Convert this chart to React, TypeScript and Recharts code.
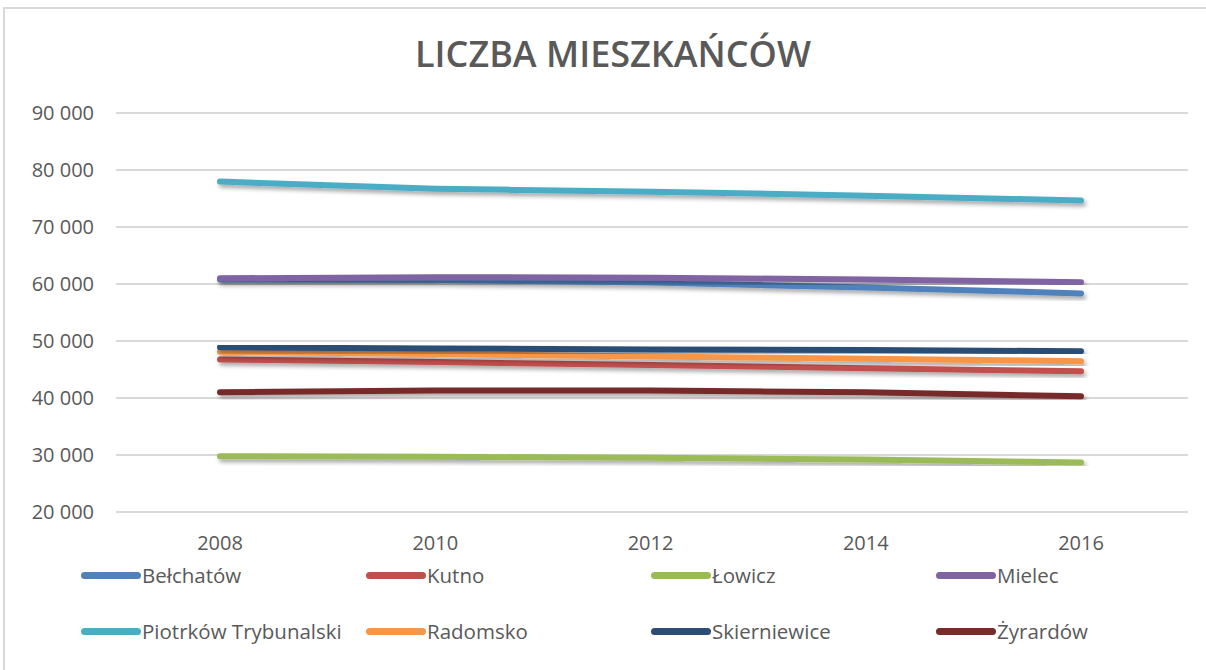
import { LineChart, Line, XAxis, YAxis, CartesianGrid } from "recharts"

const years = ["2008", "2010", "2012", "2014", "2016"]

const belchatow = [60800, 60700, 60250, 59400, 58350]
const kutno = [46750, 46300, 45800, 45200, 44700]
const lowicz = [29800, 29700, 29500, 29200, 28700]
const mielec = [61000, 61200, 61100, 60800, 60300]
const piotrkow = [77970, 76700, 76200, 75500, 74640]
const radomsko = [48100, 47700, 47300, 46900, 46450]
const skierniewice = [48900, 48700, 48500, 48400, 48200]
const zyrardow = [41000, 41300, 41300, 41000, 40300]

const yTicks = [20000, 30000, 40000, 50000, 60000, 70000, 80000, 90000]

const series = [
  { key: "belchatow", name: "Bełchatów", color: "#4F81BD", values: belchatow },
  { key: "kutno", name: "Kutno", color: "#C0504D", values: kutno },
  { key: "lowicz", name: "Łowicz", color: "#9BBB59", values: lowicz },
  { key: "mielec", name: "Mielec", color: "#8064A2", values: mielec },
  { key: "piotrkow", name: "Piotrków Trybunalski", color: "#4BACC6", values: piotrkow },
  { key: "radomsko", name: "Radomsko", color: "#F79646", values: radomsko },
  { key: "skierniewice", name: "Skierniewice", color: "#2C4D75", values: skierniewice },
  { key: "zyrardow", name: "Żyrardów", color: "#772C2A", values: zyrardow },
]

const data = years.map((year, i) => {
  const row: Record<string, string | number> = { year }
  series.forEach((s) => {
    row[s.key] = s.values[i]
  })
  return row
})

const font = "'Open Sans', sans-serif"
const textColor = "#595959"

const formatTick = (v: number) => `${Math.round(v / 1000)} 000`

export default function App() {
  return (
    <div style={{ position: "absolute", left: 0, top: 0, width: 1206, height: 670, overflow: "hidden", background: "#fff", fontFamily: font }}>
      {/* outer frame, only left and top edges are in view */}
      <div
        style={{
          position: "absolute",
          left: 3,
          top: 7,
          width: 1300,
          height: 700,
          borderLeft: "2px solid #d9d9d9",
          borderTop: "2px solid #d9d9d9",
        }}
      />
      <div
        style={{
          position: "absolute",
          left: 0,
          width: 1226,
          top: 29,
          textAlign: "center",
          fontSize: 36,
          fontWeight: 600,
          color: textColor,
        }}
      >
        LICZBA MIESZKAŃCÓW
      </div>
      <div style={{ position: "absolute", left: 0, top: 0 }}>
        <LineChart
          width={1206}
          height={670}
          data={data}
          margin={{ top: 113, right: 18, bottom: 128, left: 0 }}
        >
          <defs>
            <filter id="sh" x="-5%" y="-50%" width="110%" height="200%">
              <feDropShadow dx="2" dy="3" stdDeviation="2" floodColor="#000" floodOpacity="0.35" />
            </filter>
          </defs>
          <CartesianGrid vertical={false} stroke="#d9d9d9" strokeWidth={2} />
          <XAxis
            dataKey="year"
            axisLine={false}
            tickLine={false}
            tickSize={0}
            tickMargin={24}
            height={30}
            padding={{ left: 104, right: 107 }}
            tick={{ fill: textColor, fontSize: 20, fontFamily: font }}
          />
          <YAxis
            domain={[20000, 90000]}
            ticks={yTicks}
            width={116}
            axisLine={false}
            tickLine={false}
            tickSize={0}
            tickMargin={22}
            tickFormatter={formatTick}
            tick={{ fill: textColor, fontSize: 20, fontFamily: font }}
          />
          {series.map((s) => (
            <Line
              key={s.key}
              dataKey={s.key}
              name={s.name}
              stroke={s.color}
              strokeWidth={6}
              strokeLinecap="round"
              dot={false}
              filter="url(#sh)"
              isAnimationActive={false}
            />
          ))}
        </LineChart>
      </div>
      {series.map((s, i) => {
        const col = i % 4
        const row = Math.floor(i / 4)
        return (
          <div
            key={s.key}
            style={{
              position: "absolute",
              left: 81 + col * 285,
              top: 561 + row * 56,
              display: "flex",
              alignItems: "center",
              color: textColor,
              fontSize: 20.5,
              height: 28,
            }}
          >
            <span
              style={{
                display: "inline-block",
                width: 60,
                height: 7,
                borderRadius: 4,
                background: s.color,
                marginRight: 1,
              }}
            />
            {s.name}
          </div>
        )
      })}
    </div>
  )
}
